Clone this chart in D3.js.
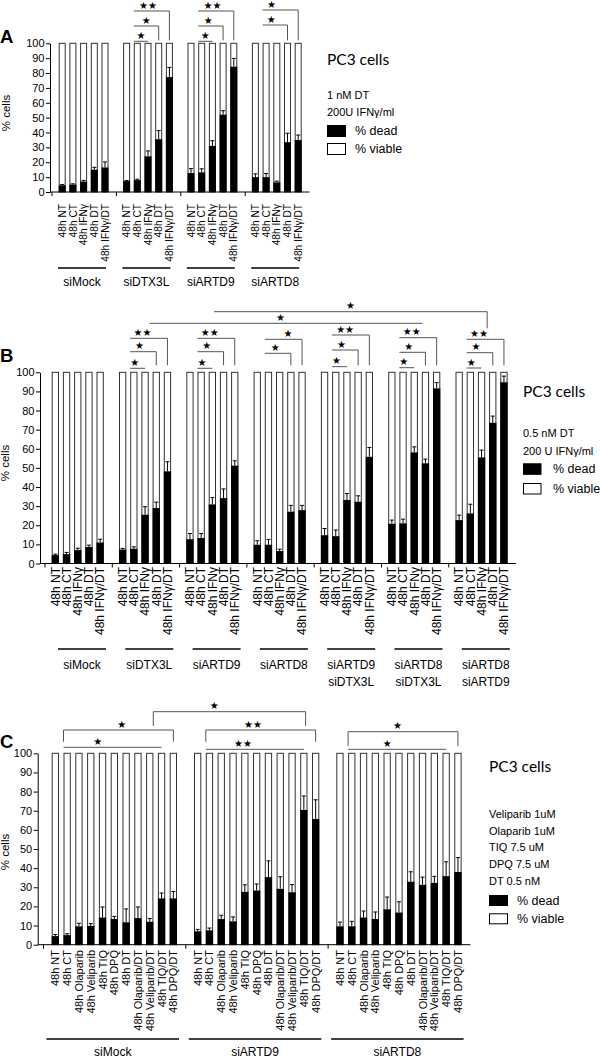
<!DOCTYPE html>
<html><head><meta charset="utf-8">
<script src="https://cdn.jsdelivr.net/npm/d3@7"></script>
<style>body{margin:0;background:#fff} svg{display:block}</style>
</head><body>
<svg id="chart" width="600" height="1061"></svg>
<script>
// ---------------- DATA ----------------
const yTicks = [0,10,20,30,40,50,60,70,80,90,100];
const seriesNames = ["% dead", "% viable"];
const yTitle = "% cells";

// Panel A
const groupsA = [["siMock"],["siDTX3L"],["siARTD9"],["siARTD8"]];
const condsA = ["48h NT","48h CT","48h IFNγ","48h DT","48h IFNγ/DT"];
const deadA = [
  [4.5, 5.0, 7.0, 15.0, 16.5],
  [7.3, 8.0, 24.0, 35.5, 77.3],
  [12.7, 13.2, 31.0, 52.0, 84.3],
  [10.0, 10.0, 6.5, 33.5, 35.0]
];
const errA = [
  [0.5, 0.5, 0.8, 1.6, 3.7],
  [0.4, 0.6, 3.6, 5.8, 6.5],
  [3.0, 2.4, 3.5, 2.7, 5.5],
  [2.2, 2.4, 0.8, 6.0, 3.3]
];
const legendA = ["1 nM DT", "200U IFNγ/ml"];

// Panel B
const groupsB = [["siMock"],["siDTX3L"],["siARTD9"],["siARTD8"],["siARTD9","siDTX3L"],["siARTD8","siDTX3L"],["siARTD8","siARTD9"]];
const condsB = ["48h NT","48h CT","48h IFNγ","48h DT","48h IFNγ/DT"];
const deadB = [
  [4.4, 4.9, 7.0, 8.6, 11.0],
  [7.3, 7.7, 25.5, 29.0, 48.2],
  [12.7, 13.3, 30.9, 34.2, 51.2],
  [9.8, 9.8, 6.5, 27.1, 27.9],
  [14.8, 14.3, 33.2, 32.3, 55.8],
  [20.8, 21.0, 58.1, 52.4, 91.6],
  [22.7, 26.2, 55.5, 73.6, 94.8]
];
const errB = [
  [0.5, 0.9, 1.0, 1.0, 1.7],
  [0.6, 1.0, 4.2, 3.1, 5.0],
  [3.0, 2.4, 3.6, 4.8, 2.5],
  [2.1, 2.8, 1.0, 3.3, 2.5],
  [3.5, 3.2, 3.4, 3.1, 4.9],
  [1.9, 2.2, 2.9, 2.2, 3.0],
  [2.6, 4.8, 3.8, 3.5, 3.2]
];
const legendB = ["0.5 nM DT", "200 U IFNγ/ml"];

// Panel C
const groupsC = [["siMock"],["siARTD9"],["siARTD8"]];
const condsC = ["48h NT","48h CT","48h Olaparib","48h Veliparib","48h TIQ","48h DPQ","48h DT","48h Olaparib/DT","48h Veliparib/DT","48h TIQ/DT","48h DPQ/DT"];
const deadC = [
  [4.5, 5.0, 9.6, 9.8, 14.2, 13.4, 11.7, 13.9, 12.0, 24.2, 24.2],
  [7.0, 7.5, 13.4, 12.2, 27.6, 28.3, 35.3, 29.2, 27.4, 70.4, 65.7],
  [9.6, 9.6, 14.2, 13.4, 18.5, 16.8, 32.9, 31.3, 32.3, 35.8, 38.0]
];
const errC = [
  [0.8, 0.7, 1.6, 1.2, 5.5, 1.4, 7.0, 5.8, 1.7, 2.8, 3.6],
  [1.0, 1.2, 2.0, 2.3, 3.7, 3.4, 8.5, 6.3, 4.0, 7.3, 10.0],
  [2.2, 2.6, 3.4, 3.7, 6.4, 5.6, 5.2, 4.0, 3.4, 7.5, 7.5]
];
const legendC = ["Veliparib 1uM", "Olaparib 1uM", "TIQ 7.5 uM", "DPQ 7.5 uM", "DT 0.5 nM"];

// ---------------- LAYOUT / ANNOTATIONS ----------------
const FONT = "'Liberation Sans', Arial, Helvetica, sans-serif";
const TITLEFONT = "Lato, 'Open Sans', sans-serif";
const STARFONT = "'DejaVu Sans', sans-serif";

const panels = [
  {
    letter: "A", letterY: 42.7,
    groups: groupsA, conds: condsA, dead: deadA, err: errA,
    yTop: 43.3, yBottom: 192, axisX: 50,
    x0: 52, groupStep: 64.4, barOffset: 6.7, barStep: 10.7, barW: 7,
    labelTop: 204, labelFont: 10.2,
    ulY: 268, ul: [6, 54], groupLabelY: 286,
    yTitleX: 9.5, yTitleY: 113,
    legend: {title: "PC3 cells", x: 327, titleY: 65, notes: legendA, notesY: 99, noteStep: 17,
             swY: 125, swStep: 18, swW: 19, swH: 12, textX: 355},
    brackets: [
      {g1:1,k1:0.67,g2:1,k2:2,rise:2,stars:1,sf:0.5},
      {g1:1,k1:0.67,g2:1,k2:3,rise:17.3,dropR:3,stars:1,sf:0.5},
      {g1:1,k1:0.67,g2:1,k2:4,rise:32.3,dropR:3,stars:2,sf:0.4},
      {g1:2,k1:0.67,g2:2,k2:2,rise:2,stars:1,sf:0.5},
      {g1:2,k1:0.67,g2:2,k2:3,rise:17.3,dropR:3,stars:1,sf:0.4},
      {g1:2,k1:0.67,g2:2,k2:4,rise:32.3,dropR:3,stars:2,sf:0.4},
      {g1:3,k1:0.67,g2:3,k2:3,rise:18.3,dropR:3,stars:1,sf:0.35},
      {g1:3,k1:0.67,g2:3,k2:4,rise:33.3,dropR:3,stars:1,sf:0.25}
    ]
  },
  {
    letter: "B", letterY: 361.7,
    groups: groupsB, conds: condsB, dead: deadB, err: errB,
    yTop: 372.3, yBottom: 563.5, axisX: 40,
    x0: 45, groupStep: 67.3, barOffset: 6.7, barStep: 11.2, barW: 7.3,
    labelTop: 567, labelFont: 12,
    ulY: 649, ul: [13, 61], groupLabelY: 669,
    yTitleX: 9, yTitleY: 463,
    legend: {title: "PC3 cells", x: 523, titleY: 397, notes: legendB, notesY: 437, noteStep: 18,
             swY: 463.3, swStep: 19.7, swW: 18.5, swH: 11.5, textX: 553},
    brackets: [
      {g1:1,k1:0.67,g2:1,k2:2,rise:4,stars:1,sf:0.3},
      {g1:1,k1:0.67,g2:1,k2:3,rise:20.6,dropR:7,stars:1,sf:0.36},
      {g1:1,k1:0.67,g2:1,k2:4,rise:34,dropR:7,stars:2,sf:0.33},
      {g1:2,k1:0.67,g2:2,k2:2,rise:4,stars:1,sf:0.3},
      {g1:2,k1:0.67,g2:2,k2:3,rise:20.6,dropR:7,stars:1,sf:0.36},
      {g1:2,k1:0.67,g2:2,k2:4,rise:34,dropR:7,stars:2,sf:0.33},
      {g1:3,k1:0.67,g2:3,k2:3,rise:19,dropR:7,stars:1,sf:0.4},
      {g1:3,k1:0.67,g2:3,k2:4,rise:33,dropR:7,stars:1,sf:0.62},
      {g1:4,k1:0.67,g2:4,k2:2,rise:5.6,stars:1,sf:0.3},
      {g1:4,k1:0.67,g2:4,k2:3,rise:22.3,dropR:7,stars:1,sf:0.36},
      {g1:4,k1:0.67,g2:4,k2:4,rise:37.3,dropR:7,stars:2,sf:0.35},
      {g1:5,k1:0.67,g2:5,k2:2,rise:4.6,stars:1,sf:0.3},
      {g1:5,k1:0.67,g2:5,k2:3,rise:20,dropR:7,stars:1,sf:0.36},
      {g1:5,k1:0.67,g2:5,k2:4,rise:34.6,dropR:7,stars:2,sf:0.33},
      {g1:6,k1:0.67,g2:6,k2:2,rise:4.3,stars:1,sf:0.3},
      {g1:6,k1:0.67,g2:6,k2:3,rise:19.6,dropR:7,stars:1,sf:0.36},
      {g1:6,k1:0.67,g2:6,k2:4,rise:33,dropR:7,stars:2,sf:0.33},
      {g1:1,k1:2.4,g2:5,k2:2.74,rise:49,stars:1,sf:0.48},
      {g1:2,k1:2.14,g2:6,k2:2.5,rise:60.6,dropR:44,stars:1,sf:0.5}
    ]
  },
  {
    letter: "C", letterY: 747.5,
    groups: groupsC, conds: condsC, dead: deadC, err: errC,
    yTop: 753.3, yBottom: 944.7, axisX: 37.7,
    x0: 43.5, groupStep: 142.3, barOffset: 8.2, barStep: 11.8, barW: 7.3,
    labelTop: 950, labelFont: 11,
    ulY: 1039, ul: [3, 135.5], groupLabelY: 1056,
    yTitleX: 9, yTitleY: 852,
    legend: {title: "PC3 cells", x: 489, titleY: 772, notes: legendC, notesY: 818, noteStep: 16.7,
             swY: 895, swStep: 18.3, swW: 19, swH: 11, textX: 517},
    brackets: [
      {g1:0,k1:0.69,g2:0,k2:9,rise:6,stars:1,sf:0.35},
      {g1:0,k1:0.69,g2:0,k2:10,rise:23.3,dropL:11.6,dropR:11.6,stars:1,sf:0.53},
      {g1:0,k1:8.3,g2:1,k2:9.15,rise:41.6,dropL:27.3,dropR:27.3,stars:1,sf:0.4},
      {g1:1,k1:0.69,g2:1,k2:10,rise:23.3,dropL:11.6,dropR:11.6,stars:2,sf:0.43},
      {g1:1,k1:0.69,g2:1,k2:9,rise:4,stars:2,sf:0.38},
      {g1:2,k1:0.69,g2:2,k2:10,rise:21.6,dropL:7.3,dropR:7.3,stars:1,sf:0.45},
      {g1:2,k1:0.69,g2:2,k2:9,rise:4,stars:1,sf:0.4}
    ]
  }
];

// ---------------- DRAW ----------------
const svg = d3.select("#chart");
svg.append("rect").attr("width",600).attr("height",1061).attr("fill","#fff");

function drawPanel(cfg) {
  const g = svg.append("g");
  const n = cfg.groups.length, m = cfg.conds.length;
  const gx = d3.scaleBand().domain(d3.range(n)).range([cfg.x0, cfg.x0 + n * cfg.groupStep]).padding(0);
  const p = 1 - cfg.barW / cfg.barStep;
  const bx = d3.scaleBand().domain(cfg.conds)
    .range([cfg.barOffset, cfg.barOffset + cfg.barStep * (m - p)])
    .paddingInner(p).paddingOuter(0);
  const y = d3.scaleLinear().domain([0, 100]).range([cfg.yBottom, cfg.yTop]);
  const bw = bx.bandwidth();
  const pos = (gi, k) => gx(gi) + bx(cfg.conds[0]) + bw / 2 + k * bx.step();

  // bars
  const rows = [];
  cfg.dead.forEach((arr, gi) => arr.forEach((v, ci) => rows.push({gi, ci, v, e: cfg.err[gi][ci]})));
  const bar = g.append("g").selectAll("g").data(rows).join("g")
    .attr("transform", d => `translate(${gx(d.gi) + bx(cfg.conds[d.ci])},0)`);
  bar.append("rect")
    .attr("x", 0.5).attr("y", y(100)).attr("width", bw - 1).attr("height", y(0) - y(100))
    .attr("fill", "#fff").attr("stroke", "#333").attr("stroke-width", 1);
  bar.append("line")
    .attr("x1", bw / 2).attr("x2", bw / 2)
    .attr("y1", d => y(d.v)).attr("y2", d => y(d.v + d.e))
    .attr("stroke", "#000").attr("stroke-width", 1);
  bar.append("line")
    .attr("x1", bw / 2 - 2).attr("x2", bw / 2 + 2)
    .attr("y1", d => y(d.v + d.e)).attr("y2", d => y(d.v + d.e))
    .attr("stroke", "#000").attr("stroke-width", 1);
  bar.append("rect")
    .attr("x", 0).attr("y", d => y(d.v)).attr("width", bw).attr("height", d => y(0) - y(d.v))
    .attr("fill", "#000");

  // y axis
  const ya = g.append("g").attr("transform", `translate(${cfg.axisX},0)`)
    .call(d3.axisLeft(y).tickValues(yTicks).tickSize(4).tickSizeOuter(0).tickPadding(1.5));
  ya.selectAll("text").attr("font-size", 11).attr("font-family", FONT).attr("fill", "#000");
  ya.selectAll("line,path").attr("stroke", "#000");

  // x axis line + group boundary ticks
  const xEnd = cfg.x0 + n * cfg.groupStep;
  g.append("line").attr("x1", cfg.axisX).attr("x2", xEnd).attr("y1", y(0)).attr("y2", y(0))
    .attr("stroke", "#000").attr("stroke-width", 1);
  g.append("g").selectAll("line").data(d3.range(n)).join("line")
    .attr("x1", i => gx(i)).attr("x2", i => gx(i))
    .attr("y1", y(0)).attr("y2", y(0) + 4).attr("stroke", "#000");

  // x labels (rotated)
  g.append("g").selectAll("text").data(rows).join("text")
    .attr("transform", d => `translate(${gx(d.gi) + bx(cfg.conds[d.ci]) + bw / 2 + cfg.labelFont * 0.36},${cfg.labelTop}) rotate(-90)`)
    .attr("text-anchor", "end")
    .attr("font-size", cfg.labelFont).attr("font-family", FONT)
    .text(d => cfg.conds[d.ci]);

  // group underlines + labels
  g.append("g").selectAll("line").data(d3.range(n)).join("line")
    .attr("x1", i => gx(i) + cfg.ul[0]).attr("x2", i => gx(i) + cfg.ul[1])
    .attr("y1", cfg.ulY).attr("y2", cfg.ulY).attr("stroke", "#000").attr("stroke-width", 1.6);
  const gl = g.append("g").selectAll("text").data(cfg.groups).join("text")
    .attr("x", (d, i) => gx(i) + (cfg.ul[0] + cfg.ul[1]) / 2)
    .attr("y", cfg.groupLabelY)
    .attr("text-anchor", "middle").attr("font-size", 12).attr("font-family", FONT);
  gl.selectAll("tspan").data(d => d).join("tspan")
    .attr("x", function() { return this.parentNode.getAttribute("x"); })
    .attr("dy", (d, i) => i === 0 ? 0 : 17)
    .text(d => d);

  // y title
  g.append("text").attr("transform", `translate(${cfg.yTitleX},${cfg.yTitleY}) rotate(-90)`)
    .attr("text-anchor", "middle").attr("font-size", 11.5).attr("font-family", FONT).text(yTitle);

  // panel letter
  g.append("text").attr("x", 0).attr("y", cfg.letterY).attr("font-size", 18.5)
    .attr("font-weight", "bold").attr("font-family", FONT).text(cfg.letter);

  // brackets
  const bg = g.append("g");
  cfg.brackets.forEach(b => {
    const x1 = pos(b.g1, b.k1), x2 = pos(b.g2, b.k2);
    const yl = cfg.yTop - b.rise;
    const yL = b.dropL != null ? cfg.yTop - b.dropL : yl;
    const yR = b.dropR != null ? cfg.yTop - b.dropR : yl;
    bg.append("path").attr("d", `M${x1},${yL}V${yl}H${x2}V${yR}`)
      .attr("fill", "none").attr("stroke", "#555").attr("stroke-width", 1);
    bg.append("text").attr("x", x1 + (x2 - x1) * b.sf).attr("y", yl - 6)
      .attr("text-anchor", "middle").attr("dominant-baseline", "central")
      .attr("font-size", 10).attr("font-family", STARFONT).text("★".repeat(b.stars));
  });

  // legend
  const L = cfg.legend;
  g.append("text").attr("x", L.x).attr("y", L.titleY).attr("font-size", 15.5)
    .attr("font-family", TITLEFONT).text(L.title);
  g.append("g").selectAll("text").data(L.notes).join("text")
    .attr("x", L.x).attr("y", (d, i) => L.notesY + i * L.noteStep)
    .attr("font-size", 11).attr("font-family", FONT).text(d => d);
  const sw = g.append("g").selectAll("g").data(seriesNames).join("g")
    .attr("transform", (d, i) => `translate(0,${L.swY + i * L.swStep})`);
  sw.append("rect").attr("x", L.x + 0.5).attr("y", 0.5).attr("width", L.swW - 1).attr("height", L.swH - 1)
    .attr("fill", (d, i) => i === 0 ? "#000" : "#fff").attr("stroke", "#000");
  sw.append("text").attr("x", L.textX).attr("y", L.swH / 2).attr("dominant-baseline", "central")
    .attr("font-size", 12.5).attr("font-family", FONT).text(d => d);
}

panels.forEach(drawPanel);
</script>
</body></html>
